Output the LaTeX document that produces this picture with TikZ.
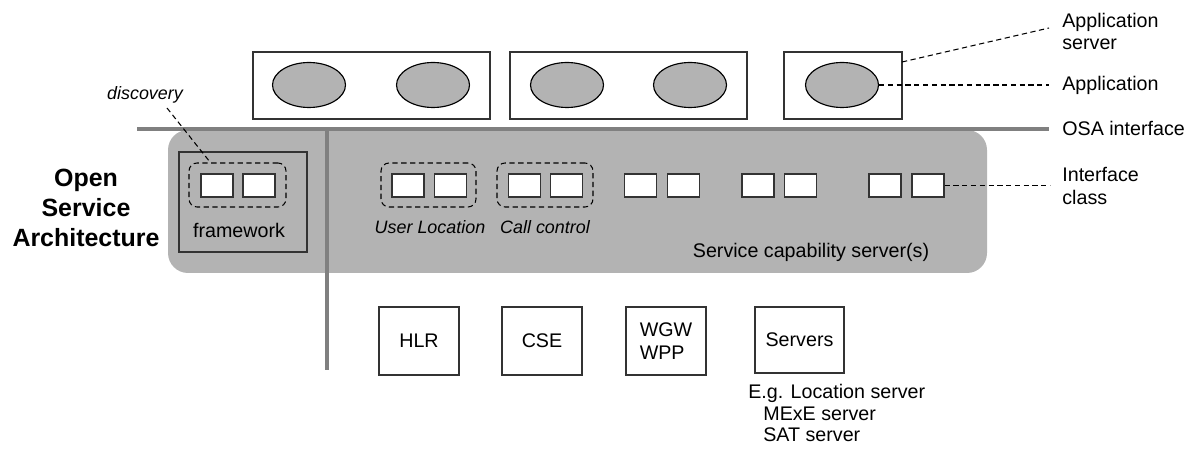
\documentclass[tikz,border=0pt]{standalone}
\usepackage{fontspec}
\setmainfont{Liberation Sans}
\usepackage{tikz}
\usetikzlibrary{shapes.geometric, calc}
\definecolor{osagray}{HTML}{B3B3B3}
\definecolor{osaline}{HTML}{808080}
\definecolor{boxline}{HTML}{333333}
\tikzstyle{app_server} = [rectangle, minimum height=1.34cm, draw=boxline, line width=0.65pt, fill=white, inner sep=0pt]
\tikzstyle{app} = [ellipse, minimum width=1.46cm, minimum height=0.9cm, draw=black, line width=0.65pt, fill=osagray, inner sep=0pt]
\tikzstyle{iface} = [rectangle, minimum width=0.64cm, minimum height=0.46cm, draw=boxline, line width=0.65pt, fill=white, inner sep=0pt]
\tikzstyle{group} = [rectangle, rounded corners=0.16cm, minimum height=0.88cm, draw=black, line width=0.6pt, dash pattern=on 3pt off 2pt, inner sep=0pt]
\tikzstyle{network} = [rectangle, minimum height=1.36cm, draw=boxline, line width=0.65pt, fill=white, text centered, inner sep=0pt]
\tikzstyle{label} = [font=\fontsize{11.2}{13}\selectfont, inner sep=0pt]
\tikzstyle{ilabel} = [font=\fontsize{10.2}{13}\selectfont\itshape, inner sep=0pt]
\tikzstyle{leader} = [black, line width=0.6pt, dash pattern=on 3pt off 2pt]

\begin{document}
\begin{tikzpicture}[x=0.02cm, y=-0.02cm]
        \useasboundingbox (0,0) rectangle (1196,455);

        % service layer background
        \fill[osagray, rounded corners=0.4cm] (168,130) rectangle (987,273);
        \coordinate(osa_l) at (137,129);
        \coordinate(osa_r) at (1049,129);
        \coordinate(sep_t) at (327,129);
        \coordinate(sep_b) at (327,370);
        \draw[osaline, line width=2pt] (osa_l) -- (osa_r);
        \draw[osaline, line width=2pt] (sep_t) -- (sep_b);

        % application servers
        \node(as1) [app_server, minimum width=4.74cm] at (371.5,85.5) {};
        \node(as2) [app_server, minimum width=4.74cm] at (628.5,85.5) {};
        \node(as3) [app_server, minimum width=2.36cm] at (843,85.5) {};
        \node(app1) [app] at (309,85) {};
        \node(app2) [app] at (433,85) {};
        \node(app3) [app] at (567,85) {};
        \node(app4) [app] at (690,85) {};
        \node(app5) [app] at (842,85) {};

        % framework
        \node(fw) [rectangle, draw=boxline, line width=0.65pt, minimum width=2.56cm, minimum height=2cm] at (243,202) {};
        \node(fw_text) [label] at (239,230) {framework};
        \node(fw_grp) [group, minimum width=1.94cm] at (237.5,185) {};
        \node(fw_if1) [iface] at (217,185.5) {};
        \node(fw_if2) [iface] at (259,185.5) {};
        \node(disc) [ilabel] at (145,95) {discovery};
        \coordinate(disc_a) at (167,108);
        \coordinate(disc_b) at (210,162);
        \draw[leader] (disc_a) -- (disc_b);

        % service capability servers
        \node(ul_grp) [group, minimum width=1.9cm] at (428.5,185) {};
        \node(ul_if1) [iface] at (408,185.5) {};
        \node(ul_if2) [iface] at (450.5,185.5) {};
        \node(ul_text) [ilabel] at (430,227) {User Location};
        \node(cc_grp) [group, minimum width=1.92cm] at (545,185) {};
        \node(cc_if1) [iface] at (524.5,185.5) {};
        \node(cc_if2) [iface] at (566.5,185.5) {};
        \node(cc_text) [ilabel] at (545,227) {Call control};
        \node(sc4_if1) [iface] at (640.5,185.5) {};
        \node(sc4_if2) [iface] at (683.5,185.5) {};
        \node(sc5_if1) [iface] at (758,185.5) {};
        \node(sc5_if2) [iface] at (800.5,185.5) {};
        \node(sc6_if1) [iface] at (885,185.5) {};
        \node(sc6_if2) [iface] at (928,185.5) {};
        \node(scs_text) [label] at (811,252) {Service capability server(s)};

        \node(osa_title) [align=center, font=\fontsize{14.2}{17}\selectfont\bfseries, inner sep=0pt] at (86,208) {Open\\Service\\Architecture};

        % network elements
        \node(hlr) [network, label, minimum width=1.6cm, minimum height=1.36cm, draw=boxline] at (419,341) {HLR};
        \node(cse) [network, label, minimum width=1.6cm, minimum height=1.36cm, draw=boxline] at (542,341) {CSE};
        \node(wgw) [network, label, minimum width=1.6cm, minimum height=1.36cm, draw=boxline, align=left] at (666,341) {WGW\\WPP};
        \node(srv) [network, label, minimum width=1.78cm, minimum height=1.32cm, draw=boxline] at (799.5,340) {Servers};
        \node(eg1) [label, anchor=west] at (748,393) {E.g. Location server};
        \node(eg2) [label, anchor=west] at (763,414) {MExE server};
        \node(eg3) [label, anchor=west] at (763,435) {SAT server};

        % legend
        \node(l_as) [label, anchor=west, align=left] at (1062,31.5) {Application\\server};
        \node(l_app) [label, anchor=west] at (1062,85) {Application};
        \node(l_osa) [label, anchor=west] at (1062,128) {OSA interface};
        \node(l_if) [label, anchor=west, align=left] at (1062,186) {Interface\\class};
        \coordinate(as_pt) at (902,62);
        \coordinate(as_end) at (1049,28);
        \coordinate(app_end) at (1049,85);
        \coordinate(if_end) at (1050,185.5);
        \draw[leader] (as_pt) -- (as_end);
        \draw[leader] (app5.east) -- (app_end);
        \draw[leader] (sc6_if2.east) -- (if_end);
    \end{tikzpicture}
\end{document}
